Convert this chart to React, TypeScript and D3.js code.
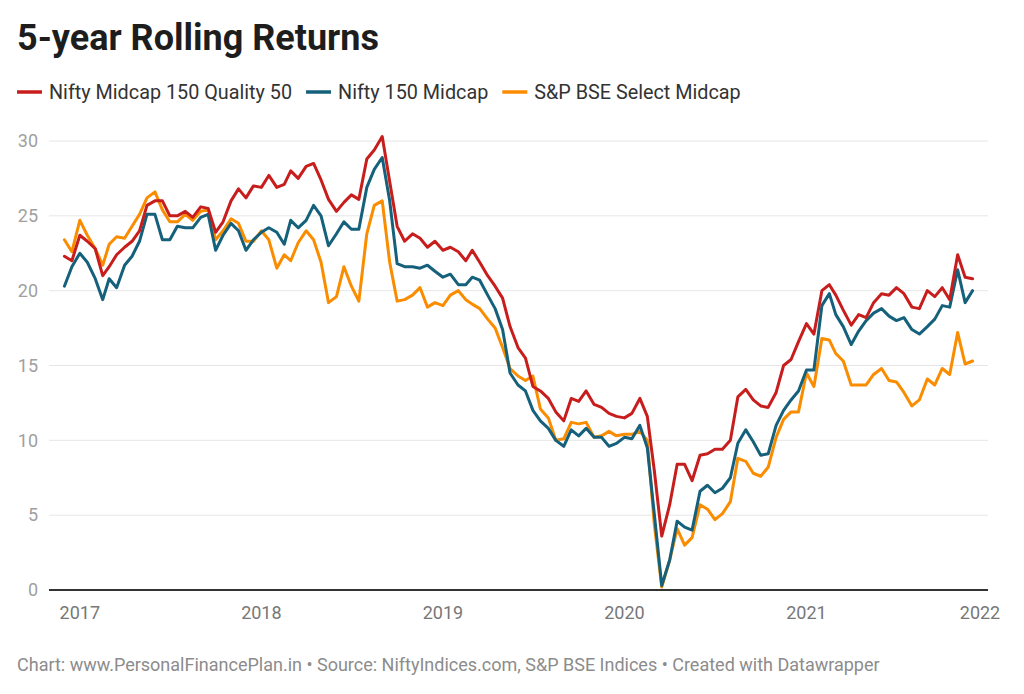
import { useRef, useEffect } from "react";
import * as d3 from "d3";

const seriesNames = ["Nifty Midcap 150 Quality 50", "Nifty 150 Midcap", "S&P BSE Select Midcap"];
const seriesColors = ["#c71e1d", "#15607a", "#fa8c00"];

// half-monthly samples, 1 Dec 2016 .. 1 Dec 2021
const dates = d3.range(121).map((i) => new Date(2016, 11 + Math.floor(i / 2), i % 2 ? 16 : 1));

const quality50 = [
  22.3, 22.0, 23.7, 23.3, 22.8, 21.0, 21.6, 22.4, 22.9, 23.3, 24.0, 25.7, 26.0, 26.0, 25.0, 25.0,
  25.3, 24.9, 25.6, 25.5, 23.9, 24.6, 26.0, 26.8, 26.2, 27.0, 26.9, 27.7, 26.9, 27.1, 28.0, 27.5,
  28.3, 28.5, 27.4, 26.1, 25.3, 25.9, 26.4, 26.1, 28.8, 29.4, 30.3, 27.3, 24.3, 23.3, 23.8, 23.5,
  22.9, 23.3, 22.7, 22.9, 22.6, 22.0, 22.7, 21.9, 21.0, 20.3, 19.5, 17.6, 16.2, 15.5, 13.6, 13.3,
  12.8, 11.9, 11.3, 12.8, 12.6, 13.3, 12.4, 12.2, 11.8, 11.6, 11.5, 11.8, 12.8, 11.6, 8.0, 3.6,
  5.7, 8.4, 8.4, 7.3, 9.0, 9.1, 9.4, 9.4, 10.0, 12.9, 13.4, 12.7, 12.3, 12.2, 13.2, 15.0,
  15.4, 16.6, 17.8, 17.1, 20.0, 20.4, 19.7, 18.7, 17.7, 18.4, 18.2, 19.2, 19.8, 19.7, 20.2, 19.8,
  18.9, 18.8, 20.0, 19.6, 20.2, 19.4, 22.4, 20.9, 20.8,
];

const midcap150 = [
  20.3, 21.6, 22.5, 21.9, 20.8, 19.4, 20.8, 20.2, 21.7, 22.3, 23.3, 25.1, 25.1, 23.4, 23.4, 24.3,
  24.2, 24.2, 24.9, 25.1, 22.7, 23.7, 24.5, 24.0, 22.7, 23.4, 23.9, 24.2, 23.9, 23.1, 24.7, 24.2,
  24.7, 25.7, 25.0, 23.0, 23.8, 24.6, 24.1, 24.1, 26.9, 28.1, 28.9, 26.0, 21.8, 21.6, 21.6, 21.5,
  21.7, 21.3, 20.9, 21.1, 20.4, 20.4, 20.9, 20.7, 19.7, 18.8, 17.4, 14.5, 13.7, 13.3, 12.0, 11.3,
  10.8, 10.0, 9.6, 10.7, 10.3, 10.8, 10.2, 10.2, 9.6, 9.8, 10.2, 10.1, 11.0, 9.5, 5.1, 0.3,
  2.0, 4.6, 4.2, 4.0, 6.6, 7.0, 6.5, 6.8, 7.5, 9.8, 10.7, 9.9, 9.0, 9.1, 11.0, 12.0,
  12.7, 13.3, 14.7, 14.7, 19.0, 19.8, 18.4, 17.6, 16.4, 17.3, 18.0, 18.5, 18.8, 18.3, 18.0, 18.2,
  17.4, 17.1, 17.6, 18.1, 19.0, 18.9, 21.4, 19.2, 20.0,
];

const bseMidcap = [
  23.4, 22.6, 24.7, 23.7, 22.8, 21.7, 23.1, 23.6, 23.5, 24.3, 25.1, 26.2, 26.6, 25.4, 24.6, 24.6,
  25.1, 24.7, 25.3, 25.4, 23.4, 24.0, 24.8, 24.5, 23.3, 23.3, 24.0, 23.4, 21.5, 22.4, 22.0, 23.2,
  24.0, 23.4, 21.9, 19.2, 19.6, 21.6, 20.3, 19.3, 23.8, 25.7, 26.0, 21.9, 19.3, 19.4, 19.7, 20.2,
  18.9, 19.2, 19.0, 19.7, 20.0, 19.4, 19.1, 18.8, 18.1, 17.5, 16.2, 14.8, 14.3, 14.0, 14.3, 12.1,
  11.5, 10.0, 10.1, 11.2, 11.1, 11.2, 10.2, 10.3, 10.6, 10.3, 10.4, 10.4, 10.6, 10.0, 4.4, 0.2,
  2.0, 4.1, 3.0, 3.5, 5.7, 5.4, 4.7, 5.1, 5.9, 8.8, 8.6, 7.8, 7.6, 8.2, 10.2, 11.4,
  11.9, 11.9, 14.5, 13.6, 16.8, 16.7, 15.8, 15.3, 13.7, 13.7, 13.7, 14.4, 14.8, 14.0, 13.9, 13.2,
  12.3, 12.7, 14.1, 13.7, 14.8, 14.4, 17.2, 15.1, 15.3,
];

const yTicks = [0, 5, 10, 15, 20, 25, 30];
const yearTicks = [2017, 2018, 2019, 2020, 2021, 2022];

const title = "5-year Rolling Returns";
const footer =
  "Chart: www.PersonalFinancePlan.in • Source: NiftyIndices.com, S&P BSE Indices • Created with Datawrapper";

const width = 1024;
const height = 694;
const font = "Roboto, 'Noto Sans', sans-serif";

export default function App() {
  const ref = useRef<SVGSVGElement | null>(null);

  useEffect(() => {
    if (!ref.current) return;
    const svg = d3.select(ref.current);
    svg.selectAll("*").remove();

    const margin = { left: 49, right: 36, top: 141, bottom: 104 };

    const x = d3
      .scaleTime()
      .domain([new Date(2016, 9, 31), new Date(2022, 0, 1)])
      .range([margin.left, width - margin.right]);
    const y = d3
      .scaleLinear()
      .domain([0, 30])
      .range([height - margin.bottom, margin.top]);

    // title
    svg
      .append("text")
      .attr("x", 17)
      .attr("y", 50)
      .attr("font-family", font)
      .attr("font-weight", 700)
      .attr("font-size", 36)
      .attr("fill", "#1d1d1d")
      .text(title);

    // legend
    let lx = 17;
    seriesNames.forEach((name, i) => {
      svg
        .append("line")
        .attr("x1", lx)
        .attr("x2", lx + 25)
        .attr("y1", 92)
        .attr("y2", 92)
        .attr("stroke", seriesColors[i])
        .attr("stroke-width", 3.5);
      const t = svg
        .append("text")
        .attr("x", lx + 32)
        .attr("y", 99)
        .attr("font-family", font)
        .attr("font-size", 19.8)
        .attr("fill", "#333")
        .text(name);
      const w = (t.node() as SVGTextElement).getComputedTextLength();
      lx += 32 + w + 14;
    });

    // grid + y labels
    svg
      .append("g")
      .selectAll("line")
      .data(yTicks.filter((d) => d > 0))
      .join("line")
      .attr("x1", margin.left)
      .attr("x2", width - margin.right)
      .attr("y1", (d) => y(d))
      .attr("y2", (d) => y(d))
      .attr("stroke", "#e6e6e6")
      .attr("stroke-width", 1);

    svg
      .append("g")
      .selectAll("text")
      .data(yTicks)
      .join("text")
      .attr("x", 38)
      .attr("y", (d) => y(d))
      .attr("dy", "0.35em")
      .attr("text-anchor", "end")
      .attr("font-family", font)
      .attr("font-size", 18)
      .attr("fill", "#a0a0a0")
      .text((d) => d);

    // x labels (last one nudged inside the plot)
    svg
      .append("g")
      .selectAll("text")
      .data(yearTicks)
      .join("text")
      .attr("x", (d) => {
        const px = x(new Date(d, 0, 1));
        return px > width - margin.right - 20 ? px - 8 : px;
      })
      .attr("y", 619)
      .attr("text-anchor", "middle")
      .attr("font-family", font)
      .attr("font-size", 18)
      .attr("fill", "#777")
      .text((d) => d);

    // lines, orange first, red on top
    const all = [quality50, midcap150, bseMidcap];
    const line = d3
      .line<number>()
      .x((_, i) => x(dates[i]))
      .y((d) => y(d));

    [2, 1, 0].forEach((k) => {
      svg
        .append("path")
        .attr("d", line(all[k]) ?? "")
        .attr("fill", "none")
        .attr("stroke", seriesColors[k])
        .attr("stroke-width", 3)
        .attr("stroke-linejoin", "round")
        .attr("stroke-linecap", "round");
    });

    // baseline
    svg
      .append("line")
      .attr("x1", margin.left)
      .attr("x2", width - margin.right)
      .attr("y1", y(0))
      .attr("y2", y(0))
      .attr("stroke", "#333")
      .attr("stroke-width", 2);

    // footer
    svg
      .append("text")
      .attr("x", 17)
      .attr("y", 671)
      .attr("font-family", font)
      .attr("font-size", 18)
      .attr("fill", "#8c8c8c")
      .text(footer);
  }, []);

  return (
    <div style={{ position: "absolute", left: 0, top: 0 }}>
      <svg ref={ref} width={width} height={height} style={{ display: "block", background: "#fff" }} />
    </div>
  );
}
